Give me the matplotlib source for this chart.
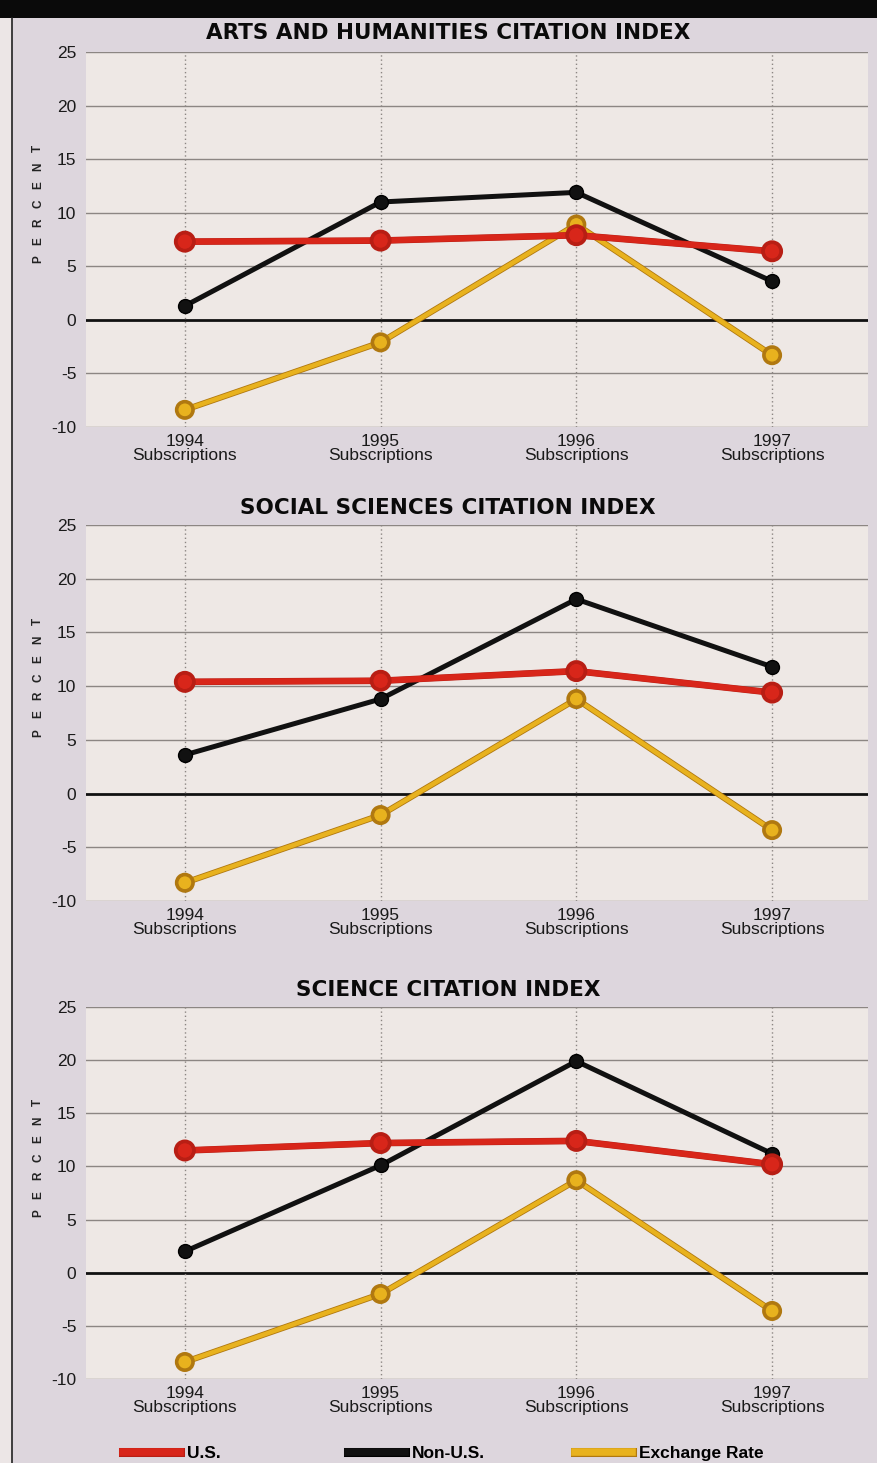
import matplotlib
matplotlib.use("Agg")
import matplotlib.pyplot as plt
import matplotlib.patheffects as pe
from matplotlib.lines import Line2D
from matplotlib.patches import Rectangle

plt.rcParams['font.family'] = ['Liberation Sans', 'DejaVu Sans']

years = ['1994', '1995', '1996', '1997']
x_labels = [y + '\nSubscriptions' for y in years]
y_ticks = [-10, -5, 0, 5, 10, 15, 20, 25]

titles = ['ARTS AND HUMANITIES CITATION INDEX',
          'SOCIAL SCIENCES CITATION INDEX',
          'SCIENCE CITATION INDEX']

arts_us = [7.3, 7.4, 7.9, 6.4]
arts_nonus = [1.3, 11.0, 11.9, 3.6]
arts_fx = [-8.4, -2.1, 8.9, -3.3]

social_us = [10.4, 10.5, 11.4, 9.4]
social_nonus = [3.6, 8.8, 18.1, 11.8]
social_fx = [-8.3, -2.0, 8.8, -3.4]

science_us = [11.5, 12.2, 12.4, 10.2]
science_nonus = [2.0, 10.1, 19.9, 11.2]
science_fx = [-8.4, -2.0, 8.7, -3.6]

series_names = ['U.S.', 'Non-U.S.', 'Exchange Rate']
panels = [
    (arts_us, arts_nonus, arts_fx),
    (social_us, social_nonus, social_fx),
    (science_us, science_nonus, science_fx),
]

W, H = 877, 1463
fig = plt.figure(figsize=(W / 100, H / 100), dpi=100)
fig.patch.set_facecolor('#ddd6dd')

# decorations: top black bar, left light strip and frame line
fig.add_artist(Rectangle((0, 1 - 18 / H), 1, 18 / H, transform=fig.transFigure,
                         facecolor='#0a0a0a', edgecolor='none', zorder=0))
fig.add_artist(Rectangle((0, 0), 12 / W, 1 - 18 / H, transform=fig.transFigure,
                         facecolor='#ece6e6', edgecolor='none', zorder=0))
fig.add_artist(Line2D([12 / W, 12 / W], [0, 1 - 18 / H], transform=fig.transFigure,
                      color='#222222', lw=1.2, zorder=1))

# axes boxes (pixel tops/bottoms)
boxes = [(52, 427), (525, 901), (1007, 1379)]
title_y = [33, 508, 990]
left_px, right_px = 86, 868

colors = {'U.S.': '#d8261a', 'Non-U.S.': '#111111', 'Exchange Rate': '#e8b21e'}
edges = {'U.S.': '#b81e14', 'Non-U.S.': '#000000', 'Exchange Rate': '#b07810'}

x = list(range(len(years)))
for i, (us, nonus, fx) in enumerate(panels):
    top, bot = boxes[i]
    ax = fig.add_axes([left_px / W, 1 - bot / H, (right_px - left_px) / W, (bot - top) / H])
    ax.set_facecolor('#eee8e5')
    ax.set_xlim(-0.505, 3.49)
    ax.set_ylim(-10, 25)
    for s in ax.spines.values():
        s.set_visible(False)
    for yv in y_ticks:
        if yv == 0:
            ax.axhline(yv, color='#111111', lw=2.0, zorder=1)
        else:
            ax.axhline(yv, color='#8c8683', lw=1.0, zorder=1)
    for xv in x:
        ax.axvline(xv, color='#8c8683', lw=1.0, ls=(0, (1, 2)), zorder=1)

    ec = edges['Exchange Rate']
    ax.plot(x, fx, color=colors['Exchange Rate'], lw=3.2, marker='o', ms=10,
            mec=ec, mew=0.8, zorder=3,
            path_effects=[pe.Stroke(linewidth=4.4, foreground=ec), pe.Normal()])
    ax.plot(x, nonus, color=colors['Non-U.S.'], lw=3.6, marker='o', ms=10,
            mec=edges['Non-U.S.'], zorder=4)
    ec = edges['U.S.']
    ax.plot(x, us, color=colors['U.S.'], lw=4.2, marker='o', ms=11,
            mec=ec, mew=0.6, zorder=5,
            path_effects=[pe.Stroke(linewidth=4.8, foreground=ec), pe.Normal()])

    ax.set_yticks(y_ticks)
    ax.set_yticklabels([str(v) for v in y_ticks], fontsize=12.5, color='#1a1a1a')
    ax.set_xticks(x)
    ax.set_xticklabels(x_labels, fontsize=12.5, color='#1a1a1a', linespacing=0.95)
    ax.tick_params(axis='both', length=0)
    ax.tick_params(axis='y', pad=7)
    ax.tick_params(axis='x', pad=5)

    # spaced vertical "PERCENT" label, reading bottom to top
    word = 'PERCENT'
    step = 18.5 / (bot - top)
    center = 0.595
    for k, ch in enumerate(word):
        yk = center + (k - (len(word) - 1) / 2) * step
        ax.text(-0.061, yk, ch, transform=ax.transAxes, rotation=90,
                ha='center', va='center', fontsize=8.5, fontweight='bold', color='#222222')

    fig.text(448 / W, 1 - title_y[i] / H, titles[i], ha='center', va='center',
             fontsize=15.5, fontweight='heavy', color='#0a0a0a',
             family=['DejaVu Sans'])

# legend entries
leg_x = [118, 343, 570]
for name, lx in zip(series_names, leg_x):
    proxy = Line2D([0], [0], color=colors[name], lw=5.5,
                   path_effects=[pe.Stroke(linewidth=6.5, foreground=edges[name]), pe.Normal()])
    fig.legend([proxy], [name], loc='center left',
               bbox_to_anchor=(lx / W - 0.012, 1 - 1453 / H),
               frameon=False, handlelength=3.3, handletextpad=0.4,
               prop={'weight': 'bold', 'size': 12.5})

fig.savefig('out.png', dpi=100, facecolor=fig.get_facecolor())
